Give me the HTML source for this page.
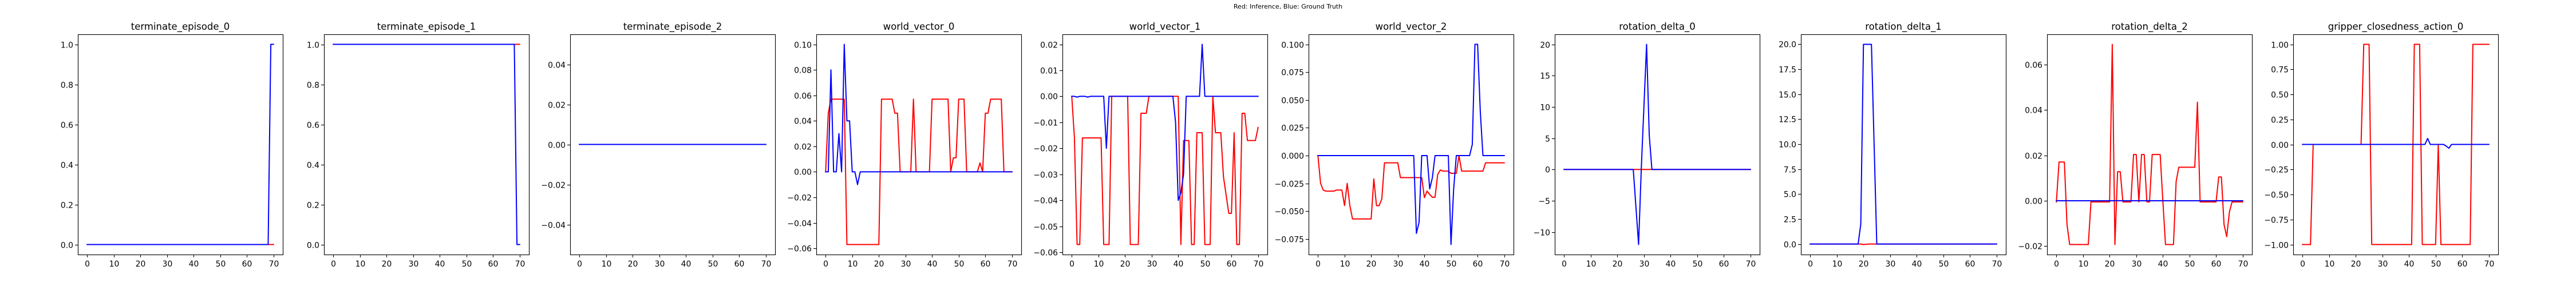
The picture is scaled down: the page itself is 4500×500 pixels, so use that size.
<!DOCTYPE html>
<html>
<head>
<meta charset="utf-8">
<style>
html,body{margin:0;padding:0;background:#fff;}
svg{display:block;}
text{font-family:"DejaVu Sans","Liberation Sans",sans-serif;fill:#000;}
</style>
</head>
<body>
<svg id="fig" width="4500" height="500" viewBox="0 0 4500 500" xmlns="http://www.w3.org/2000/svg">
<rect x="0" y="0" width="4500" height="500" fill="#fff"/>
<text x="2250" y="15" font-size="11" text-anchor="middle">Red: Inference, Blue: Ground Truth</text>
</svg>
<script>
const xTickLabels = ["0","10","20","30","40","50","60","70"];

const te0Red = [0,0,0,0,0,0,0,0,0,0, 0,0,0,0,0,0,0,0,0,0, 0,0,0,0,0,0,0,0,0,0, 0,0,0,0,0,0,0,0,0,0, 0,0,0,0,0,0,0,0,0,0, 0,0,0,0,0,0,0,0,0,0, 0,0,0,0,0,0,0,0,0,0, 0];
const te0Blue = [0,0,0,0,0,0,0,0,0,0, 0,0,0,0,0,0,0,0,0,0, 0,0,0,0,0,0,0,0,0,0, 0,0,0,0,0,0,0,0,0,0, 0,0,0,0,0,0,0,0,0,0, 0,0,0,0,0,0,0,0,0,0, 0,0,0,0,0,0,0,0,0,1, 1];
const te0Ticks = ["0.0","0.2","0.4","0.6","0.8","1.0"];

const te1Red = [1,1,1,1,1,1,1,1,1,1, 1,1,1,1,1,1,1,1,1,1, 1,1,1,1,1,1,1,1,1,1, 1,1,1,1,1,1,1,1,1,1, 1,1,1,1,1,1,1,1,1,1, 1,1,1,1,1,1,1,1,1,1, 1,1,1,1,1,1,1,1,1,1, 1];
const te1Blue = [1,1,1,1,1,1,1,1,1,1, 1,1,1,1,1,1,1,1,1,1, 1,1,1,1,1,1,1,1,1,1, 1,1,1,1,1,1,1,1,1,1, 1,1,1,1,1,1,1,1,1,1, 1,1,1,1,1,1,1,1,1,1, 1,1,1,1,1,1,1,1,1,0, 0];
const te1Ticks = ["0.0","0.2","0.4","0.6","0.8","1.0"];

const te2Red = [0,0,0,0,0,0,0,0,0,0, 0,0,0,0,0,0,0,0,0,0, 0,0,0,0,0,0,0,0,0,0, 0,0,0,0,0,0,0,0,0,0, 0,0,0,0,0,0,0,0,0,0, 0,0,0,0,0,0,0,0,0,0, 0,0,0,0,0,0,0,0,0,0, 0];
const te2Blue = [0,0,0,0,0,0,0,0,0,0, 0,0,0,0,0,0,0,0,0,0, 0,0,0,0,0,0,0,0,0,0, 0,0,0,0,0,0,0,0,0,0, 0,0,0,0,0,0,0,0,0,0, 0,0,0,0,0,0,0,0,0,0, 0,0,0,0,0,0,0,0,0,0, 0];
const te2Ticks = ["\u22120.04","\u22120.02","0.00","0.02","0.04"];

const wv0Red = [0,0.046,0.057,0.057,0.057,0.057,0.057,0.057,-0.057,-0.057,
 -0.057,-0.057,-0.057,-0.057,-0.057,-0.057,-0.057,-0.057,-0.057,-0.057,
 -0.057,0.057,0.057,0.057,0.057,0.057,0.046,0.046,0,0,
 0,0,0,0.057,0,0,0,0,0,0,
 0.057,0.057,0.057,0.057,0.057,0.057,0.057,0,0.011,0.011,
 0.057,0.057,0.057,0,0,0,0,0,0.007,0,
 0.046,0.046,0.057,0.057,0.057,0.057,0.057,0,0,0,
 0];
const wv0Blue = [0,0,0.08,0,0,0.03,0,0.1,0.04,0.04,
 0,0,-0.01,0,0,0,0,0,0,0,
 0,0,0,0,0,0,0,0,0,0, 0,0,0,0,0,0,0,0,0,0, 0,0,0,0,0,0,0,0,0,0, 0,0,0,0,0,0,0,0,0,0, 0,0,0,0,0,0,0,0,0,0, 0];
const wv0Ticks = ["\u22120.06","\u22120.04","\u22120.02","0.00","0.02","0.04","0.06","0.08","0.10"];

const wv1Red = [0,-0.016,-0.057,-0.057,-0.016,-0.016,-0.016,-0.016,-0.016,-0.016,
 -0.016,-0.016,-0.057,-0.057,-0.057,0,0,0,0,0,
 0,0,-0.057,-0.057,-0.057,-0.057,-0.0065,-0.0065,-0.0065,0,
 0,0,0,0,0,0,0,0,0,0,
 0,-0.057,-0.017,-0.017,-0.017,-0.057,-0.057,-0.014,-0.014,-0.014,
 -0.057,-0.057,-0.057,0,-0.014,-0.014,-0.014,-0.031,-0.038,-0.045,
 -0.045,-0.014,-0.057,-0.057,-0.0065,-0.0065,-0.017,-0.017,-0.017,-0.017,
 -0.012];
const wv1Blue = [0,0,-0.0003,0,0,0,-0.0003,0,0,0,
 0,0,0,-0.02,0,0,0,0,0,0,
 0,0,0,0,0,0,0,0,0,0,
 0,0,0,0,0,0,0,0,0,-0.01,
 -0.04,-0.037,-0.03,0,0,0,0,0,0,0.02,
 0,0,0,0,0,0,0,0,0,0, 0,0,0,0,0,0,0,0,0,0, 0];
const wv1Ticks = ["\u22120.06","\u22120.05","\u22120.04","\u22120.03","\u22120.02","\u22120.01","0.00","0.01","0.02"];

const wv2Red = [0,-0.025,-0.031,-0.032,-0.032,-0.032,-0.032,-0.031,-0.031,-0.031,
 -0.045,-0.025,-0.045,-0.057,-0.057,-0.057,-0.057,-0.057,-0.057,-0.057,
 -0.057,-0.021,-0.045,-0.045,-0.039,-0.0065,-0.0065,-0.0065,-0.0065,-0.0065,
 -0.0065,-0.0198,-0.0198,-0.0198,-0.0198,-0.0198,-0.0198,-0.0198,-0.0198,-0.0198,
 -0.0378,-0.032,-0.035,-0.0375,-0.0375,-0.017,-0.013,-0.014,-0.014,-0.014,
 -0.016,-0.016,-0.016,0,-0.014,-0.014,-0.014,-0.014,-0.014,-0.014,
 -0.014,-0.014,-0.014,-0.0065,-0.0065,-0.0065,-0.0065,-0.0065,-0.0065,-0.0065,
 -0.0065];
const wv2Blue = [0,0,0,0,0,0,0,0,0,0, 0,0,0,0,0,0,0,0,0,0, 0,0,0,0,0,0,0,0,0,0,
 0,0,0,0,0,0,0,-0.07,-0.06,0,
 0,0,-0.03,-0.02,0,0,0,0,0,0,
 -0.08,-0.03,0,0,0,0,0,0,0.01,0.1,
 0.1,0.04,0,0,0,0,0,0,0,0,
 0];
const wv2Ticks = ["\u22120.075","\u22120.050","\u22120.025","0.000","0.025","0.050","0.075","0.100"];

const rd0Red = [0,0,0,0,0,0,0,0,0,0, 0,0,0,0,0,0,0,0,0,0, 0,0,0,0,0,0,0,0,0,0, 0,0,0,0,0,0,0,0,0,0, 0,0,0,0,0,0,0,0,0,0, 0,0,0,0,0,0,0,0,0,0, 0,0,0,0,0,0,0,0,0,0, 0];
const rd0Blue = [0,0,0,0,0,0,0,0,0,0, 0,0,0,0,0,0,0,0,0,0, 0,0,0,0,0,0,0,-6,-12,0,
 10,20,5.5,0,0,0,0,0,0,0, 0,0,0,0,0,0,0,0,0,0, 0,0,0,0,0,0,0,0,0,0, 0,0,0,0,0,0,0,0,0,0, 0];
const rd0Ticks = ["\u221210","\u22125","0","5","10","15","20"];

const rd1Red = [0,0,0,0,0,0,0,0,0,0, 0,0,0,0,0,0,0,0,0,0, -0.05,-0.03,0,0,0,0,0,0,0,0, 0,0,0,0,0,0,0,0,0,0, 0,0,0,0,0,0,0,0,0,0, 0,0,0,0,0,0,0,0,0,0, 0,0,0,0,0,0,0,0,0,0, 0];
const rd1Blue = [0,0,0,0,0,0,0,0,0,0, 0,0,0,0,0,0,0,0,0,2,
 20,20,20,20,10,0,0,0,0,0, 0,0,0,0,0,0,0,0,0,0, 0,0,0,0,0,0,0,0,0,0, 0,0,0,0,0,0,0,0,0,0, 0,0,0,0,0,0,0,0,0,0, 0];
const rd1Ticks = ["0.0","2.5","5.0","7.5","10.0","12.5","15.0","17.5","20.0"];

const rd2Red = [-0.0005,0.0171,0.0171,0.0171,-0.0106,-0.0193,-0.0193,-0.0193,-0.0193,-0.0193,
 -0.0193,-0.0193,-0.0193,-0.0005,-0.0005,-0.0005,-0.0005,-0.0005,-0.0005,-0.0005,
 -0.0005,0.069,-0.0193,0.0128,0.0128,-0.0005,-0.0005,-0.0005,-0.0005,0.0204,
 0.0204,-0.0005,0.0204,0.0204,-0.0005,-0.0005,0.0204,0.0204,0.0204,0.0204,
 0,-0.0193,-0.0193,-0.0193,-0.0193,0.0085,0.0148,0.0148,0.0148,0.0148,
 0.0148,0.0148,0.0148,0.0435,-0.0005,-0.0005,-0.0005,-0.0005,-0.0005,-0.0005,
 -0.0005,0.0105,0.0105,-0.0105,-0.0158,-0.005,-0.0005,-0.0005,-0.0005,-0.0005,
 -0.0005];
const rd2Blue = [0,0,0,0,0,0,0,0,0,0, 0,0,0,0,0,0,0,0,0,0, 0,0,0,0,0,0,0,0,0,0, 0,0,0,0,0,0,0,0,0,0, 0,0,0,0,0,0,0,0,0,0, 0,0,0,0,0,0,0,0,0,0, 0,0,0,0,0,0,0,0,0,0, 0];
const rd2Ticks = ["\u22120.02","0.00","0.02","0.04","0.06"];

const grRed = [-1,-1,-1,-1,0,0,0,0,0,0,
 0,0,0,0,0,0,0,0,0,0,
 0,0,0,1,1,1,-1,-1,-1,-1,
 -1,-1,-1,-1,-1,-1,-1,-1,-1,-1,
 -1,-1,1,1,1,-1,-1,-1,-1,-1,
 -1,0,-1,-1,-1,-1,-1,-1,-1,-1,
 -1,-1,-1,-1,1,1,1,1,1,1,
 1];
const grBlue = [0,0,0,0,0,0,0,0,0,0, 0,0,0,0,0,0,0,0,0,0, 0,0,0,0,0,0,0,0,0,0, 0,0,0,0,0,0,0,0,0,0,
 0,0,0,0,0,0,0,0.06,0,0,
 0,0,0,0,-0.017,-0.038,0,0,0,0,
 0,0,0,0,0,0,0,0,0,0, 0];
const grTicks = ["\u22121.00","\u22120.75","\u22120.50","\u22120.25","0.00","0.25","0.50","0.75","1.00"];

const panelTitles = ["terminate_episode_0","terminate_episode_1","terminate_episode_2","world_vector_0","world_vector_1","world_vector_2","rotation_delta_0","rotation_delta_1","rotation_delta_2","gripper_closedness_action_0"];
const redSeries = [te0Red,te1Red,te2Red,wv0Red,wv1Red,wv2Red,rd0Red,rd1Red,rd2Red,grRed];
const blueSeries = [te0Blue,te1Blue,te2Blue,wv0Blue,wv1Blue,wv2Blue,rd0Blue,rd1Blue,rd2Blue,grBlue];
const yTickSets = [te0Ticks,te1Ticks,te2Ticks,wv0Ticks,wv1Ticks,wv2Ticks,rd0Ticks,rd1Ticks,rd2Ticks,grTicks];

const NS = "http://www.w3.org/2000/svg";
const svg = document.getElementById("fig");
const AX_LEFT0 = 136, AX_STEP = 430, AX_W = 358, AX_TOP = 60, AX_BOT = 445;

function mk(tag, attrs, parent) {
  const el = document.createElementNS(NS, tag);
  for (const k in attrs) el.setAttribute(k, attrs[k]);
  parent.appendChild(el);
  return el;
}
function parseLabel(s) { return parseFloat(s.replace("\u2212", "-")); }

panelTitles.forEach((title, i) => {
  const red = redSeries[i], blue = blueSeries[i];
  const g = mk("g", {}, svg);
  
  
  const left = AX_LEFT0 + AX_STEP * i, right = left + AX_W;
  const n = red.length;
  const xmin = -0.05 * (n - 1), xmax = (n - 1) * 1.05;
  let lo = Math.min(...red, ...blue), hi = Math.max(...red, ...blue);
  let ymin, ymax;
  if (hi - lo < 1e-12) { ymin = lo - 0.055; ymax = hi + 0.055; }
  else { const p = (hi - lo) * 0.05; ymin = lo - p; ymax = hi + p; }
  const xs = v => left + (v - xmin) / (xmax - xmin) * AX_W;
  const ys = v => AX_BOT - (v - ymin) / (ymax - ymin) * (AX_BOT - AX_TOP);

  // series
  [[red, "#ff0000", "inference-line"], [blue, "#0000ff", "ground-truth-line"]].forEach(([arr, col, nm]) => {
    const d = arr.map((v, k) => (k ? "L" : "M") + xs(k).toFixed(2) + "," + ys(v).toFixed(2)).join(" ");
    const p = mk("path", {d: d, fill: "none", stroke: col, "stroke-width": 2, "stroke-linejoin": "round", "stroke-linecap": "square"}, g);
    
    
  });

  // frame
  const fr = mk("rect", {x: left + 0.5, y: AX_TOP + 0.5, width: AX_W, height: AX_BOT - AX_TOP, fill: "none", stroke: "#000", "stroke-width": 1.1}, g);
  
  

  // title
  const t = mk("text", {x: left + AX_W / 2, y: 52, "font-size": 16.5, "text-anchor": "middle"}, g);
  t.textContent = title;
  
  

  // x ticks
  xTickLabels.forEach(lbl => {
    const v = parseLabel(lbl);
    const x = Math.round(xs(v)) + 0.5;
    const tk = mk("line", {x1: x, x2: x, y1: AX_BOT, y2: AX_BOT + 5, stroke: "#000", "stroke-width": 1.1}, g);
    
    
    const tl = mk("text", {x: x, y: AX_BOT + 21, "font-size": 13.9, "text-anchor": "middle"}, g);
    tl.textContent = lbl;
    
    
  });

  // y ticks
  yTickSets[i].forEach(lbl => {
    const v = parseLabel(lbl);
    const y = Math.round(ys(v)) + 0.5;
    const tk = mk("line", {x1: left - 5, x2: left, y1: y, y2: y, stroke: "#000", "stroke-width": 1.1}, g);
    
    
    const tl = mk("text", {x: left - 8, y: y + 5, "font-size": 13.9, "text-anchor": "end"}, g);
    tl.textContent = lbl;
    
    
  });
});
</script>
</body>
</html>
